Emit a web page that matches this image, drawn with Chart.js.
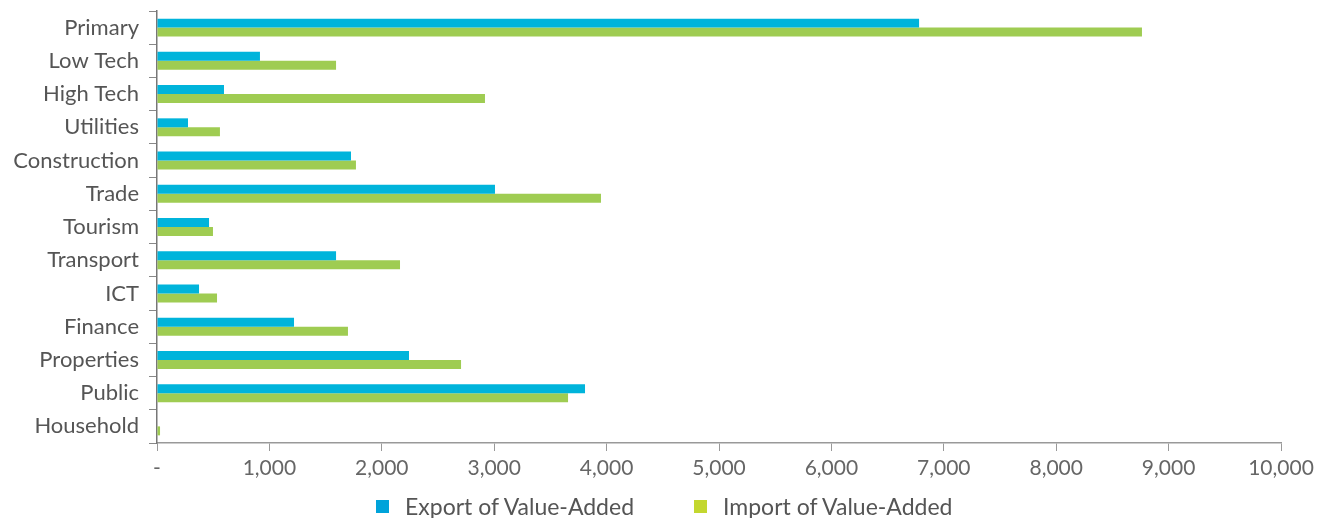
<!DOCTYPE html>
<html>
<head>
<meta charset="utf-8">
<script src="https://cdn.jsdelivr.net/npm/chart.js@4"></script>
<style>
  html, body { margin: 0; padding: 0; background: #fff; }
  #wrap { width: 1324px; height: 518px; position: relative; }
  #legend { position: absolute; left: 376px; top: 492px; display: flex; font-family: Lato, "Open Sans", sans-serif;
            font-size: 23px; color: #555; line-height: 28px; white-space: nowrap; }
  #legend .item { display: flex; align-items: center; margin-right: 60px; }
  #legend .box { width: 13px; height: 13px; margin-right: 16px; }
</style>
</head>
<body>
<div id="wrap"><canvas id="chart"></canvas><div id="legend"></div></div>
<script>
// Value-added by sector
const SECTORS = ['Primary', 'Low Tech', 'High Tech', 'Utilities', 'Construction', 'Trade', 'Tourism',
                 'Transport', 'ICT', 'Finance', 'Properties', 'Public', 'Household'];
const EXPORT_VA = [6780, 916, 596, 276, 1726, 3007, 463, 1593, 374, 1219, 2242, 3808, 0];
const IMPORT_VA = [8763, 1593, 2918, 560, 1770, 3950, 498, 2162, 534, 1699, 2705, 3657, 27];
const SERIES_NAMES = ['Export of Value-Added', 'Import of Value-Added'];

const BAR_COLORS    = ['#00B4DB', '#9FCC52'];
const LEGEND_COLORS = ['#00A3DA', '#C3D72F'];

const FONT = 'Lato, "Open Sans", sans-serif';

// html legend (the swatches are a brighter shade than the bars in the original)
document.getElementById('legend').innerHTML = SERIES_NAMES.map((name, i) =>
  `<div class="item"><span class="box" style="background:${LEGEND_COLORS[i]}"></span>${name}</div>`).join('');

new Chart(document.getElementById('chart'), {
  type: 'bar',
  data: {
    labels: SECTORS,
    datasets: [
      { label: SERIES_NAMES[0], data: EXPORT_VA, backgroundColor: BAR_COLORS[0] },
      { label: SERIES_NAMES[1], data: IMPORT_VA, backgroundColor: BAR_COLORS[1] },
    ],
  },
  options: {
    indexAxis: 'y',
    responsive: true,
    maintainAspectRatio: false,
    animation: false,
    datasets: { bar: { categoryPercentage: 0.54, barPercentage: 1, borderWidth: 0 } },
    layout: { padding: { top: 11, right: 43, left: 0, bottom: 35 } },
    scales: {
      x: {
        min: 0, max: 10000,
        ticks: {
          stepSize: 1000, color: '#666', padding: 5,
          font: { family: FONT, size: 21 },
          callback: v => v === 0 ? '-' : v.toLocaleString('en-US'),
        },
        grid: { drawOnChartArea: false, tickLength: 8, color: '#999' },
        border: { color: '#999', width: 1.5 },
        afterFit: s => { s.height = 40; },
      },
      y: {
        ticks: { color: '#555', padding: 10, font: { family: FONT, size: 22 } },
        grid: { drawOnChartArea: false, tickLength: 8, color: '#888', offset: true },
        border: { color: '#777', width: 1.5 },
        // fixed gutter; drop the half-label padding so the plot starts near the top
        afterFit: s => { s.width = 157; s.paddingTop = 0; s.paddingBottom = 0; },
      },
    },
    plugins: {
      legend: { display: false },
      tooltip: { enabled: false },
    },
  },
});
</script>
</body>
</html>
